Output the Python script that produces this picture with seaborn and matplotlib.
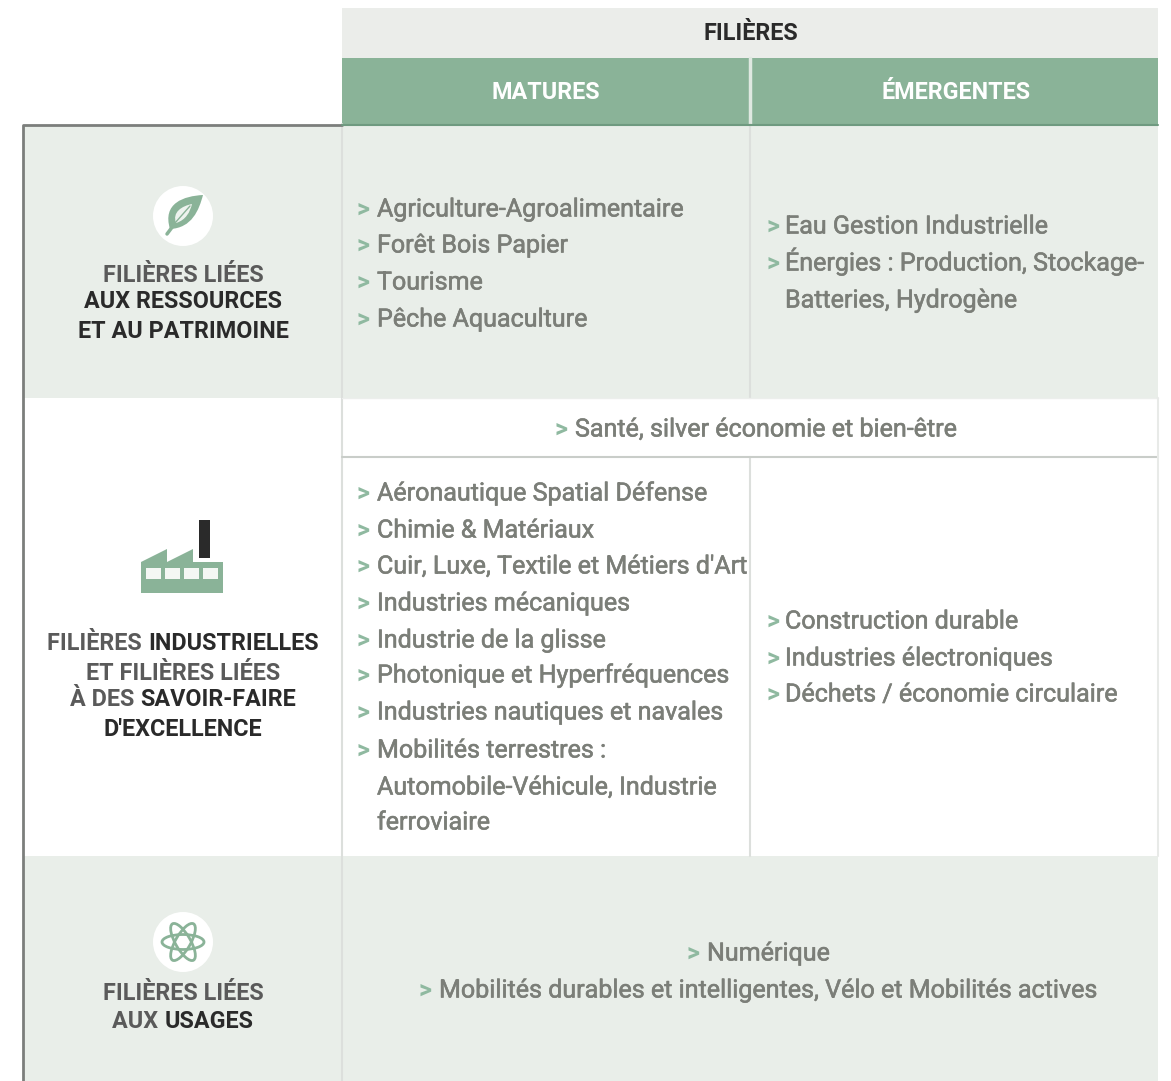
import matplotlib
matplotlib.use('Agg')
import matplotlib.pyplot as plt
import matplotlib.patheffects as pe
import seaborn as sns
from matplotlib.patches import Rectangle, Circle, Ellipse, Polygon, PathPatch
from matplotlib.path import Path

# Table content
top_header = 'FILIÈRES'
col_headers = ['MATURES', 'ÉMERGENTES']

row1_label = [[('FILIÈRES LIÉES', False)], [('AUX RESSOURCES', True)], [('ET AU PATRIMOINE', True)]]
row2_label = [[('FILIÈRES ', False), ('INDUSTRIELLES', True)], [('ET FILIÈRES LIÉES', False)],
              [('À DES ', False), ('SAVOIR-FAIRE', True)], [("D'EXCELLENCE", True)]]
row3_label = [[('FILIÈRES LIÉES', False)], [('AUX ', False), ('USAGES', True)]]

row1_mature = ['Agriculture-Agroalimentaire', 'Forêt Bois Papier', 'Tourisme', 'Pêche Aquaculture']
row1_emerging = ['Eau Gestion Industrielle', 'Énergies : Production, Stockage-']
row1_emerging_cont = 'Batteries, Hydrogène'
shared_row = 'Santé, silver économie et bien-être'
row2_mature = ['Aéronautique Spatial Défense', 'Chimie & Matériaux', "Cuir, Luxe, Textile et Métiers d'Art",
               'Industries mécaniques', 'Industrie de la glisse', 'Photonique et Hyperfréquences',
               'Industries nautiques et navales', 'Mobilités terrestres :']
row2_mature_cont = ['Automobile-Véhicule, Industrie', 'ferroviaire']
row2_emerging = ['Construction durable', 'Industries électroniques', 'Déchets / économie circulaire']
row3_items = ['Numérique', 'Mobilités durables et intelligentes, Vélo et Mobilités actives']

# Style
sns.set_theme(style='white')
plt.rcParams['font.family'] = ['Roboto', 'DejaVu Sans']

GREEN = '#8ab398'
ARROW = '#8fb9a0'
PALE = '#e9eee9'
HEAD_PALE = '#ebedea'
LINE = '#dcdfdc'
BODY = '#7b7e78'
DARK = '#2a2a2a'
MID = '#5a5a5a'
BODY_SIZE = 18.05
LABEL_SIZE = 16.8
BODY_FX = [pe.withStroke(linewidth=0.4, foreground=BODY)]

fig = plt.figure(figsize=(11.71, 10.81), dpi=100)
ax = fig.add_axes([0, 0, 1, 1])
ax.set_xlim(0, 1171)
ax.set_ylim(1081, 0)
ax.axis('off')


def box(x0, y0, x1, y1, color):
    ax.add_patch(Rectangle((x0, y0), x1 - x0, y1 - y0, facecolor=color, edgecolor='none'))


def cont(x_text, y, label):
    ax.text(x_text, y + 8.5, label, color=BODY, fontsize=BODY_SIZE, va='baseline', ha='left',
            path_effects=BODY_FX)


def item(x_arrow, x_text, y, label):
    ax.text(x_arrow, y + 9, '>', color=ARROW, fontsize=BODY_SIZE, va='baseline', ha='left', fontweight='bold')
    cont(x_text, y, label)


def mixed_line(cx, y, parts):
    # centre a line made of regular and bold runs
    renderer = fig.canvas.get_renderer()
    runs = []
    total = 0
    for txt, strong in parts:
        t = ax.text(0, y + 8.5, txt.replace(' ', '\u00a0'), fontsize=LABEL_SIZE, va='baseline', ha='left',
                    fontweight='bold', color=DARK if strong else MID)
        w = t.get_window_extent(renderer).width
        runs.append((t, w))
        total += w
    x = cx - total / 2
    for t, w in runs:
        t.set_x(x)
        x += w


# Backgrounds
box(342, 8, 1158, 58, HEAD_PALE)
box(342, 58, 1158, 124, GREEN)
box(24, 126, 1158, 398, PALE)
box(24, 856, 1158, 1081, PALE)

# Grid lines
ax.plot([749.5, 749.5], [58, 124], color='#dfe8e1', lw=2.5)
ax.plot([342, 342], [124, 1081], color=LINE, lw=1.5)
ax.plot([750, 750], [124, 398], color=LINE, lw=1.5)
ax.plot([750, 750], [457, 856], color=LINE, lw=1.5)
ax.plot([342, 1158], [457, 457], color='#c9cdc9', lw=1.5)
ax.plot([342, 1158], [398, 398], color='#eceeec', lw=1)
ax.plot([1158, 1158], [398, 856], color='#e8eae8', lw=1.5)
ax.plot([22.5, 22.5, 342], [1081, 124.5, 124.5], color='#7c7e7c', lw=2)
ax.plot([342, 1158], [124.5, 124.5], color='#6f9a80', lw=1.5)

# Headers
ax.text(751, 40, top_header, color=DARK, fontsize=LABEL_SIZE, fontweight='bold', ha='center', va='baseline')
ax.text(546, 99, col_headers[0], color='white', fontsize=LABEL_SIZE, fontweight='bold', ha='center', va='baseline')
ax.text(956, 99, col_headers[1], color='white', fontsize=LABEL_SIZE, fontweight='bold', ha='center', va='baseline')

# Row labels
for y, parts in zip([273, 300, 329], row1_label):
    mixed_line(183, y, parts)
for y, parts in zip([642, 671, 698, 727], row2_label):
    mixed_line(183, y, parts)
for y, parts in zip([992, 1019], row3_label):
    mixed_line(183, y, parts)

# Row 1 text
for y, label in zip([208, 244, 281, 318], row1_mature):
    item(357, 377, y, label)
for y, label in zip([225, 262], row1_emerging):
    item(767, 785, y, label)
cont(785, 299, row1_emerging_cont)

# Shared row
item(555, 575, 428, shared_row)

# Row 2 text
for y, label in zip([492, 529, 565, 602, 639, 674, 711, 749], row2_mature):
    item(357, 377, y, label)
for y, label in zip([786, 821], row2_mature_cont):
    cont(377, y, label)
for y, label in zip([620, 657, 693], row2_emerging):
    item(767, 785, y, label)

# Row 3 text
item(687, 707, 952, row3_items[0])
item(419, 439, 989, row3_items[1])

# Leaf icon
ax.add_patch(Circle((183, 216), 30, facecolor='white', edgecolor='none'))
leaf = Path([(203, 195), (184, 196), (162, 203), (170, 229), (192, 228), (199, 210), (203, 195)],
            [Path.MOVETO, Path.CURVE4, Path.CURVE4, Path.CURVE4, Path.CURVE4, Path.CURVE4, Path.CURVE4])
ax.add_patch(PathPatch(leaf, facecolor=GREEN, edgecolor='none'))
ax.plot([167, 173], [234, 226], color=GREEN, lw=2.5, solid_capstyle='round')
inner = Path([(192, 204), (182, 206), (172, 212), (176, 223), (186, 220), (190, 212), (192, 204)],
             [Path.MOVETO, Path.CURVE4, Path.CURVE4, Path.CURVE4, Path.CURVE4, Path.CURVE4, Path.CURVE4])
ax.add_patch(PathPatch(inner, facecolor='#eef3ef', edgecolor='none'))
ax.plot([175, 190], [223, 206], color=GREEN, lw=1)

# Factory icon
ax.add_patch(Polygon([(141, 593), (141, 562), (167, 549), (167, 562), (193, 549), (193, 562),
                      (223, 562), (223, 593)], closed=True, facecolor=GREEN, edgecolor='none'))
for wx in [146, 165, 184, 203]:
    box(wx, 568, wx + 15, 579, '#f4f7f4')
box(199, 520, 210, 558, DARK)

# Atom icon
ax.add_patch(Circle((183, 942), 30, facecolor='white', edgecolor='none'))
for angle in [0, 60, 120]:
    ax.add_patch(Ellipse((183, 942), 42, 15, angle=angle, facecolor='none', edgecolor=GREEN, lw=2))

fig.savefig('out.png', dpi=100)
